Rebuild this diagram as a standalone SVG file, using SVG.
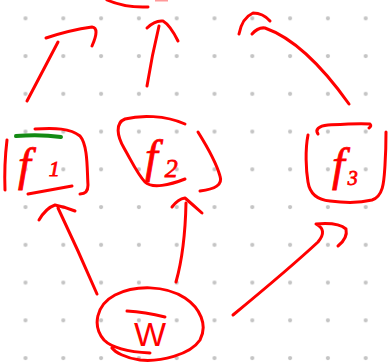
<svg xmlns="http://www.w3.org/2000/svg" width="388" height="362" viewBox="0 0 388 362">
<style>
.ink{fill:none;stroke:#f00;stroke-width:3;stroke-linecap:round;stroke-linejoin:round}
.lbl{fill:#f00;stroke:#f00;stroke-width:0.8;font-family:"Liberation Serif",serif;font-style:italic}
.w{fill:#f00;font-family:"Liberation Sans",sans-serif}
</style>
<defs>
<pattern id="dots" patternUnits="userSpaceOnUse" x="6.6" y="-0.6" width="37.8" height="37.75">
<circle cx="18.9" cy="18.9" r="2.1" fill="#c4c4c4"/>
</pattern>
</defs>
<rect width="388" height="362" fill="#fff"/>
<rect width="388" height="362" fill="url(#dots)"/>

<g id="top">
<path class="ink" d="M107,0 Q125,8 148,7"/>
<path d="M155,0.5 L168,0.5" stroke="#f99" stroke-width="2" fill="none"/>
</g>

<g id="f1">
<path class="ink" d="M7,140 Q4,165 5,190"/>
<path class="ink" d="M35,129 C55,128 70,128 80,136 C88,145 87,170 88,185 C88,192 84,194 80,194"/>
<path class="ink" d="M28,194 L72,186"/>
<path d="M16,136 Q40,134 61,137" fill="none" stroke="#138a13" stroke-width="4" stroke-linecap="round"/>
<text class="lbl" x="18" y="180" font-size="46">f<tspan font-size="22" dx="18" dy="-4">1</tspan></text>
</g>

<g id="f2">
<path class="ink" d="M185,124 C165,115 140,115 125,119 C115,123 117,136 124,148 C132,162 138,175 145,182 C152,189 170,185 185,179"/>
<path class="ink" d="M198,132 C208,148 216,162 220,176 C223,185 215,189 200,191"/>
<text class="lbl" x="145" y="172" font-size="46">f<tspan font-size="26" dx="7" dy="5">2</tspan></text>
</g>

<g id="f3">
<path class="ink" d="M318,134 C315,130 318,126 328,125 C345,124 360,123 370,124 Q372,126 369,128"/>
<path class="ink" d="M308,135 C305,150 306,170 308,182 C310,195 318,200 330,201 C345,203 360,203 372,200 C384,196 384,180 385,165 C386,150 386,140 386,132"/>
<text class="lbl" x="332" y="180" font-size="46">f<tspan font-size="20" dx="3" dy="5">3</tspan></text>
</g>

<g id="W">
<path class="ink" d="M150,353 C130,352 112,348 104,340 C92,326 96,305 115,295 C135,285 165,285 185,298 C200,308 208,325 200,340 C190,355 160,362 140,360 C125,358 115,352 112,348"/>
<path class="ink" d="M127,311 Q145,312 165,317"/>
<text class="w" x="134" y="346" font-size="34">W</text>
</g>

<g id="connectors">
<path class="ink" d="M27,101 L58,42"/>
<path class="ink" d="M46,38 Q70,30 92,27 Q100,28 92,46"/>
<path class="ink" d="M147,86 Q152,55 159,26"/>
<path class="ink" d="M147,28 Q155,20 163,21 Q170,25 178,41"/>
<path class="ink" d="M252,34 Q258,27 265,28 Q305,42 349,104"/>
<path class="ink" d="M239,34 Q242,18 253,13 Q263,13 270,21"/>
<path class="ink" d="M58,208 Q78,250 97,294"/>
<path class="ink" d="M39,220 Q46,208 55,205 Q65,207 75,211"/>
<path class="ink" d="M186,203 Q185,250 176,282"/>
<path class="ink" d="M172,207 Q178,199 185,198 Q193,205 202,213"/>
<path class="ink" d="M233,315 Q290,268 318,242 Q328,230 316,224 Q338,222 346,229 Q348,238 338,246"/>
</g>
</svg>
